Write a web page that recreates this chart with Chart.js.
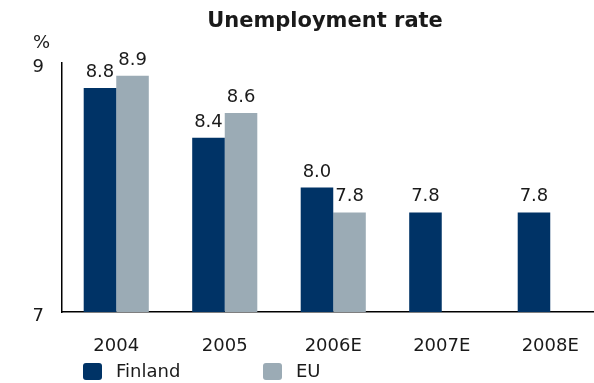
<!DOCTYPE html>
<html><head><meta charset="utf-8">
<script src="https://cdn.jsdelivr.net/npm/chart.js@4"></script>
<style>html,body{margin:0;padding:0;overflow:hidden;background:#fff}#wrap{width:650px;height:383px}</style>
</head><body><div id="wrap"><canvas id="c" width="650" height="383"></canvas></div>
<script>
const categories = ['2004', '2005', '2006E', '2007E', '2008E'];
const finland = [8.8, 8.4, 8.0, 7.8, 7.8];
const eu = [8.9, 8.6, 7.8, null, null];
const yTicks = [7, 9];
const seriesNames = ['Finland', 'EU'];
const unitLabel = '%';
const titleText = 'Unemployment rate';

const FONT = '"DejaVu Sans", sans-serif';
const TEXT = '#1a1a1a';
const colors = ['#003366', '#9BABB5'];

const valueLabels = {
  id: 'valueLabels',
  afterDatasetsDraw(chart) {
    const ctx = chart.ctx;
    ctx.save();
    ctx.font = '18px ' + FONT;
    ctx.fillStyle = TEXT;
    ctx.textAlign = 'center';
    ctx.textBaseline = 'alphabetic';
    chart.data.datasets.forEach((ds, di) => {
      const meta = chart.getDatasetMeta(di);
      meta.data.forEach((bar, i) => {
        const v = ds.data[i];
        if (v === null || v === undefined) return;
        ctx.fillText(v.toFixed(1), bar.x, bar.y - 11);
      });
    });
    ctx.restore();
  }
};

const extras = {
  id: 'extras',
  afterDraw(chart) {
    const ctx = chart.ctx;
    ctx.save();
    ctx.font = '18px ' + FONT;
    ctx.fillStyle = TEXT;
    ctx.textAlign = 'left';
    ctx.textBaseline = 'alphabetic';
    ctx.fillText(unitLabel, 33, 48);
    // legend
    const xs = [83, 263];
    chart.data.datasets.forEach((ds, i) => {
      const x = xs[i], y = 363;
      ctx.fillStyle = ds.backgroundColor;
      ctx.beginPath();
      ctx.roundRect(x, y, 19, 17, 3);
      ctx.fill();
      ctx.fillStyle = TEXT;
      ctx.textBaseline = 'middle';
      ctx.fillText(ds.label, x + 33, y + 9);
    });
    ctx.restore();
  }
};

new Chart(document.getElementById('c'), {
  type: 'bar',
  data: {
    labels: categories,
    datasets: [
      { label: seriesNames[0], data: finland, backgroundColor: colors[0] },
      { label: seriesNames[1], data: eu, backgroundColor: colors[1] }
    ]
  },
  options: {
    responsive: false,
    devicePixelRatio: 1,
    animation: false,
    categoryPercentage: 0.6,
    barPercentage: 1.0,
    layout: { padding: { left: 0, right: 0, top: 0, bottom: 26 } },
    plugins: {
      legend: { display: false },
      tooltip: { enabled: false },
      title: {
        display: true,
        text: titleText,
        color: TEXT,
        font: { family: FONT, size: 21, weight: 'bold', lineHeight: 1.2 },
        padding: { top: 9, bottom: 29 }
      }
    },
    scales: {
      x: {
        grid: { display: false, drawTicks: false },
        border: { display: true, color: '#000', width: 1.5 },
        ticks: { color: TEXT, font: { family: FONT, size: 18 }, padding: 24, maxRotation: 0 },
        afterFit(s) { s.height = 45; }
      },
      y: {
        min: 7, max: 9,
        grid: { display: false, drawTicks: false },
        border: { display: true, color: '#000', width: 1.5 },
        ticks: { color: TEXT, font: { family: FONT, size: 18 }, padding: 18, labelOffset: 4 },
        afterBuildTicks(s) { s.ticks = yTicks.map(v => ({ value: v })); },
        afterFit(s) { s.width = 62; }
      },
      y2: {
        position: 'right',
        display: true,
        grid: { display: false, drawTicks: false },
        border: { display: false },
        ticks: { display: false },
        afterFit(s) { s.width = 45.5; }
      }
    }
  },
  plugins: [valueLabels, extras]
});
</script>
</body></html>
